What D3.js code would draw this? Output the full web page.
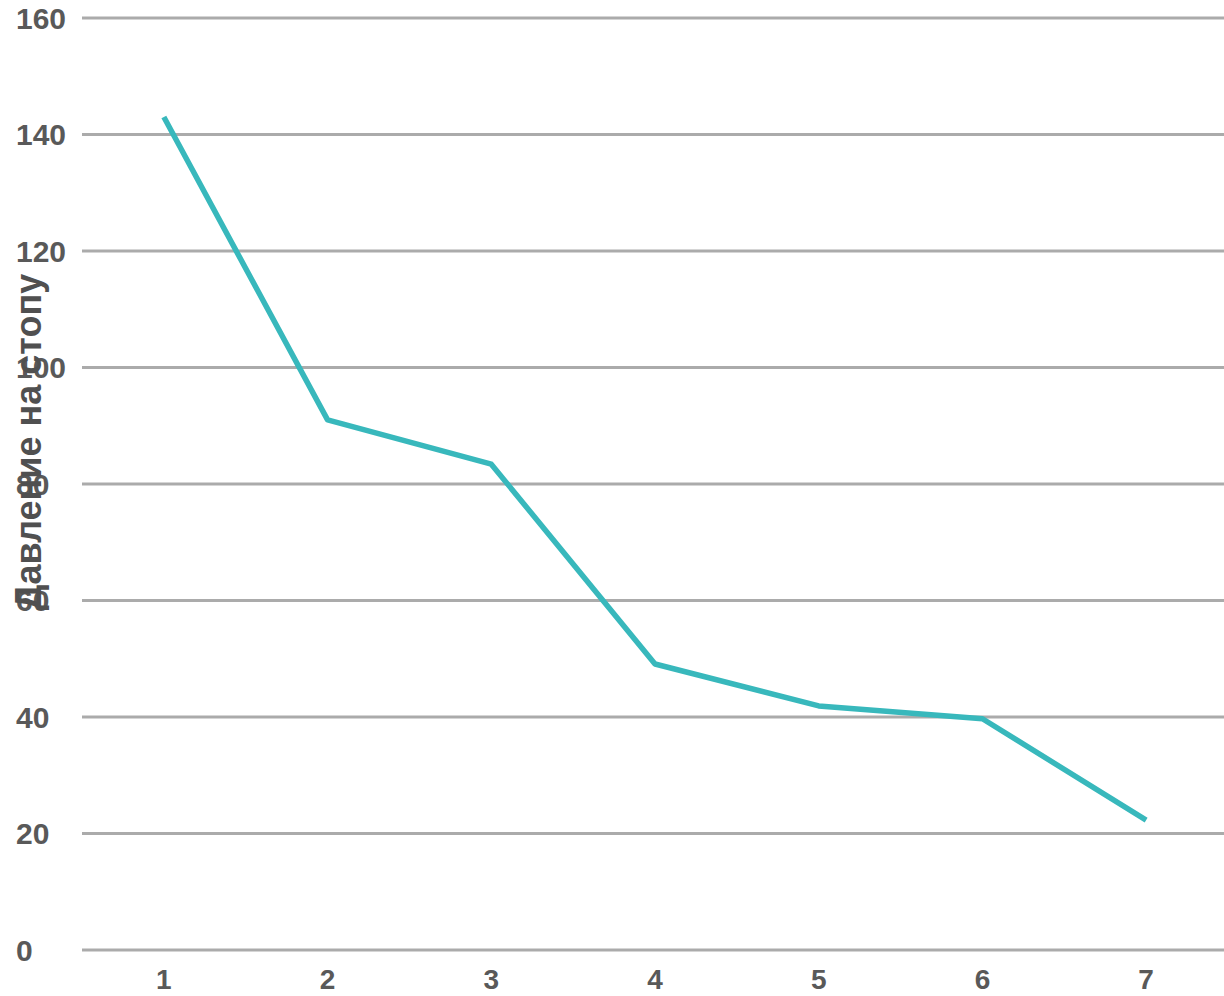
<!DOCTYPE html>
<html>
<head>
<meta charset="utf-8">
<script src="https://cdn.jsdelivr.net/npm/d3@7"></script>
<style>
  html, body { margin: 0; padding: 0; background: #ffffff; }
  svg { display: block; }
</style>
</head>
<body>
<svg id="chart" width="1224" height="996"></svg>
<script>
// Data
const categories = ["1", "2", "3", "4", "5", "6", "7"];
const pressure = [143, 91, 83.4, 49.1, 41.9, 39.7, 22.3];
const yTicks = [0, 20, 40, 60, 80, 100, 120, 140, 160];
const yTitle = "Давление на стопу";

const svg = d3.select("#chart");
const plotLeft = 82, plotRight = 1228, plotTop = 18, plotBottom = 950;

const x = d3.scalePoint().domain(categories).range([plotLeft, plotRight]).padding(0.5);
const y = d3.scaleLinear().domain([0, 160]).range([plotBottom, plotTop]);

// Horizontal gridlines
svg.append("g")
  .selectAll("line")
  .data(yTicks)
  .join("line")
  .attr("x1", plotLeft)
  .attr("x2", 1224)
  .attr("y1", d => y(d))
  .attr("y2", d => y(d))
  .attr("stroke", "#ababab")
  .attr("stroke-width", 3);

// Y tick labels
svg.append("g")
  .selectAll("text")
  .data(yTicks)
  .join("text")
  .attr("x", 16)
  .attr("y", d => y(d))
  .attr("dy", "0.36em")
  .attr("font-family", "Liberation Sans, Arial, sans-serif")
  .attr("font-weight", "bold")
  .attr("font-size", 30)
  .attr("fill", "#595959")
  .text(d => d);

// X tick labels
svg.append("g")
  .selectAll("text")
  .data(categories)
  .join("text")
  .attr("x", d => x(d))
  .attr("y", 989)
  .attr("text-anchor", "middle")
  .attr("font-family", "Liberation Sans, Arial, sans-serif")
  .attr("font-weight", "bold")
  .attr("font-size", 28)
  .attr("fill", "#595959")
  .text(d => d);

// Y axis title
svg.append("text")
  .attr("transform", "translate(41, 442) rotate(-90)")
  .attr("text-anchor", "middle")
  .attr("font-family", "Liberation Sans, Arial, sans-serif")
  .attr("font-weight", "bold")
  .attr("font-size", 36)
  .attr("fill", "#505050")
  .text(yTitle);

// Pressure line
const line = d3.line()
  .x((d, i) => x(categories[i]))
  .y(d => y(d));

svg.append("path")
  .datum(pressure)
  .attr("fill", "none")
  .attr("stroke", "#38b8bc")
  .attr("stroke-width", 5.5)
  .attr("stroke-linejoin", "round")
  .attr("d", line);
</script>
</body>
</html>
